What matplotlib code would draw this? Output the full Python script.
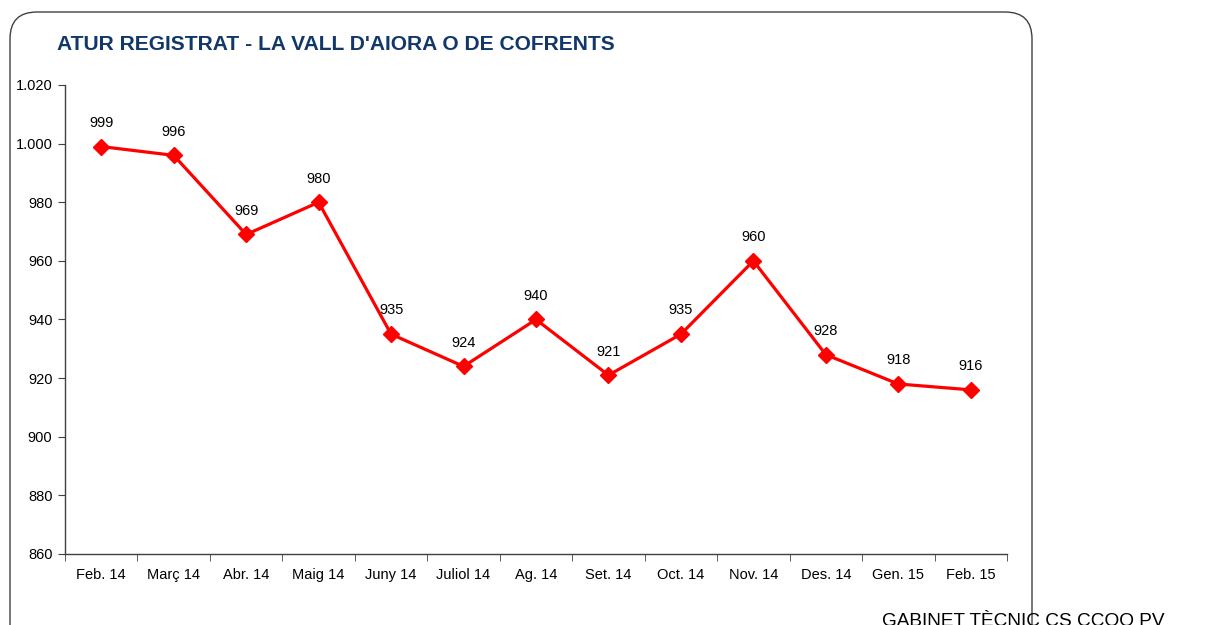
import matplotlib
matplotlib.use('Agg')
import matplotlib.pyplot as plt
from matplotlib.patches import FancyBboxPatch
from matplotlib.ticker import FuncFormatter, FixedLocator
import numpy as np

# Data
months = ['Feb. 14', 'Març 14', 'Abr. 14', 'Maig 14', 'Juny 14', 'Juliol 14', 'Ag. 14',
          'Set. 14', 'Oct. 14', 'Nov. 14', 'Des. 14', 'Gen. 15', 'Feb. 15']
atur = [999, 996, 969, 980, 935, 924, 940, 921, 935, 960, 928, 918, 916]

title = "ATUR REGISTRAT - LA VALL D'AIORA O DE COFRENTS"
footer = 'GABINET TÈCNIC CS CCOO PV'

plt.rcParams['font.family'] = ['Liberation Sans', 'DejaVu Sans']

W, H = 1220, 625
fig = plt.figure(figsize=(W / 100, H / 100), dpi=100)

# Rounded frame around the chart (outline only, drawn on top like the original)
frame = FancyBboxPatch((10 / W, -40 / H), 1022 / W, (H - 12 + 40) / H,
                       boxstyle='round,pad=0,rounding_size=0.022',
                       transform=fig.transFigure, facecolor='none',
                       edgecolor='#404040', linewidth=1.0, mutation_aspect=W / H)
fig.patches.append(frame)

ax = fig.add_axes([65 / W, 1 - 554 / H, 942 / W, 469 / H])
ax.set_facecolor('none')

x = np.arange(len(months))
ax.plot(x, atur, color='#FF0000', linewidth=2.3, marker='D', markersize=8.5,
        markerfacecolor='#FF0000', markeredgecolor='#FF0000', zorder=3)

for xi, v in zip(x, atur):
    ax.annotate(str(v), (xi, v), xytext=(0, 12), textcoords='offset points',
                ha='center', va='bottom', fontsize=10.5, color='black')

ax.set_xlim(-0.5, len(months) - 0.5)
ax.set_ylim(860, 1020)
ax.set_yticks(np.arange(860, 1021, 20))
ax.yaxis.set_major_formatter(FuncFormatter(lambda v, p: f'{int(v):,}'.replace(',', '.')))

# Category labels centred, ticks at the boundaries
ax.set_xticks(x)
ax.set_xticklabels(months, fontsize=10.5)
ax.tick_params(axis='x', which='major', length=0, pad=10)
ax.xaxis.set_minor_locator(FixedLocator(np.arange(-0.5, len(months), 1.0)))
ax.tick_params(axis='x', which='minor', length=5, direction='out', color='#404040')
ax.tick_params(axis='y', length=5, direction='out', color='#404040', labelsize=10.5, pad=4)

for side in ['top', 'right']:
    ax.spines[side].set_visible(False)
for side in ['left', 'bottom']:
    ax.spines[side].set_color('#404040')
    ax.spines[side].set_linewidth(1.0)

fig.text(57 / W, 1 - 44 / H, title, fontsize=15.1, fontweight='bold',
         color='#12386B', ha='left', va='center')
fig.text(1165 / W, 1 - 621 / H, footer, fontsize=13.7, color='black',
         ha='right', va='center')

fig.savefig('out.png', dpi=100)
